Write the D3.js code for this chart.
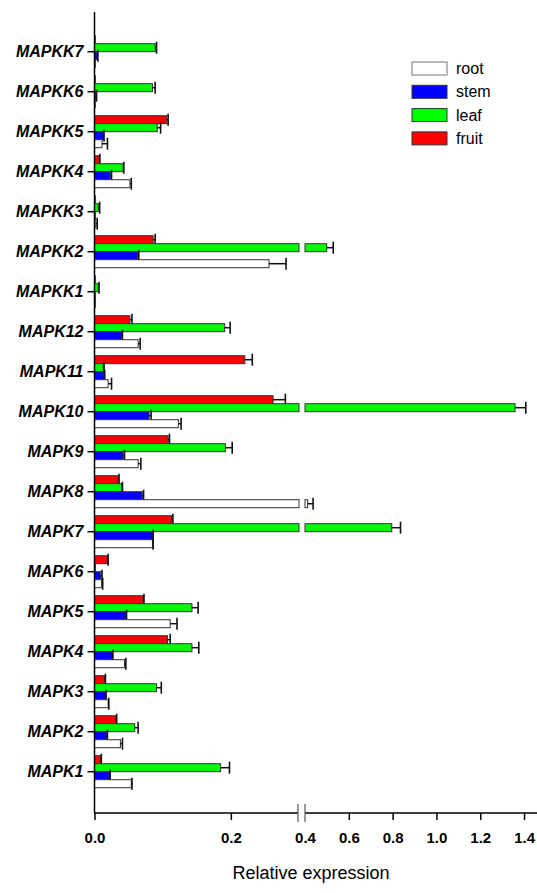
<!DOCTYPE html>
<html>
<head>
<meta charset="utf-8">
<script src="https://cdn.jsdelivr.net/npm/d3@7"></script>
<style>
  body { margin: 0; background: #fff; }
  svg { display: block; font-family: "Liberation Sans", Arial, sans-serif; }
</style>
</head>
<body>
<svg id="chart" width="537" height="893"></svg>
<script>
// genes, top to bottom
const genes = ["MAPKK7", "MAPKK6", "MAPKK5", "MAPKK4", "MAPKK3", "MAPKK2", "MAPKK1",
  "MAPK12", "MAPK11", "MAPK10", "MAPK9", "MAPK8", "MAPK7", "MAPK6", "MAPK5",
  "MAPK4", "MAPK3", "MAPK2", "MAPK1"];

const root     = [0.001, 0.001, 0.011, 0.052, 0.002, 0.256, 0, 0.064, 0.02, 0.123, 0.064, 0.412, 0.085, 0.0105, 0.111, 0.044, 0.02, 0.038, 0.054];
const rootErr  = [0, 0, 0.008, 0.002, 0.002, 0.025, 0, 0.003, 0.005, 0.004, 0.004, 0.025, 0.001, 0.0015, 0.01, 0.002, 0.001, 0.003, 0.001];
const stem     = [0.004, 0.002, 0.013, 0.023, 0.001, 0.063, 0, 0.04, 0.014, 0.08, 0.042, 0.07, 0.085, 0.009, 0.046, 0.026, 0.016, 0.018, 0.022];
const stemErr  = [0.001, 0.001, 0.001, 0.002, 0, 0.002, 0, 0.001, 0.001, 0.003, 0.002, 0.002, 0.001, 0.002, 0.001, 0.001, 0.001, 0.001, 0.001];
const leaf     = [0.089, 0.085, 0.092, 0.042, 0.0056, 0.499, 0.0056, 0.191, 0.013, 1.359, 0.192, 0.04, 0.796, 0, 0.143, 0.143, 0.091, 0.059, 0.185];
const leafErr  = [0.002, 0.004, 0.005, 0.001, 0.002, 0.03, 0.001, 0.008, 0.001, 0.049, 0.01, 0.001, 0.04, 0, 0.009, 0.01, 0.007, 0.005, 0.013];
const fruit    = [0.001, 0.001, 0.106, 0.007, 0, 0.086, 0, 0.052, 0.2205, 0.262, 0.108, 0.035, 0.113, 0.019, 0.0716, 0.107, 0.015, 0.0315, 0.009];
const fruitErr = [0, 0, 0.002, 0.001, 0, 0.003, 0, 0.003, 0.011, 0.018, 0.002, 0.001, 0.002, 0.001, 0.001, 0.004, 0.001, 0.001, 0.001];

const tickValues = [0, 0.2, 0.4, 0.6, 0.8, 1.0, 1.2, 1.4];
const breakLo = 0.3, breakHi = 0.4;

// drawn top to bottom inside each group
const series = [
  { name: "fruit", values: fruit, errs: fruitErr, color: "#ff0000" },
  { name: "leaf",  values: leaf,  errs: leafErr,  color: "#00ff00" },
  { name: "stem",  values: stem,  errs: stemErr,  color: "#0000ff" },
  { name: "root",  values: root,  errs: rootErr,  color: "#ffffff" }
];
const legendOrder = ["root", "stem", "leaf", "fruit"];

const svg = d3.select("#chart");
const x0 = 94.5, axisY = 813, axisTop = 12;

// broken axis: 0..0.3 then 0.4..1.45
const x = d3.scaleLinear()
  .domain([0, breakLo, breakHi, 1.45])
  .range([x0, 299, 305, 535]);

const y = d3.scaleBand()
  .domain(genes)
  .range([31.7, 791.7])
  .padding(0);

const barH = 8;

// bars
series.forEach((s, si) => {
  const g = svg.append("g").attr("class", "series-" + s.name);
  genes.forEach((gene, i) => {
    const v = s.values[i];
    const top = y(gene) + y.bandwidth() / 2 - 16 + si * barH;
    const segs = v > breakLo ? [[0, breakLo], [breakHi, v]] : [[0, v]];
    segs.forEach(([a, b]) => {
      g.append("rect")
        .attr("x", x(a))
        .attr("y", top)
        .attr("width", Math.max(0.8, x(b) - x(a)))
        .attr("height", barH)
        .attr("fill", s.color)
        .attr("stroke", "#333")
        .attr("stroke-width", 1);
    });
    const e = s.errs[i];
    if (e > 0) {
      const cy = top + barH / 2;
      g.append("line")
        .attr("x1", x(v)).attr("x2", x(v + e))
        .attr("y1", cy).attr("y2", cy)
        .attr("stroke", "#111").attr("stroke-width", 1.5);
      g.append("line")
        .attr("x1", x(v + e)).attr("x2", x(v + e))
        .attr("y1", cy - 6).attr("y2", cy + 6)
        .attr("stroke", "#111").attr("stroke-width", 1.6);
    }
  });
});

// y axis
svg.append("line")
  .attr("x1", x0).attr("x2", x0)
  .attr("y1", axisTop).attr("y2", axisY)
  .attr("stroke", "#000").attr("stroke-width", 1.5);

const yAxis = svg.append("g")
  .attr("transform", `translate(${x0},0)`)
  .call(d3.axisLeft(y).tickSize(7).tickPadding(4));
yAxis.select(".domain").remove();
yAxis.selectAll(".tick line").attr("stroke-width", 1.5);
yAxis.selectAll("text")
  .attr("font-family", "'Liberation Sans', Arial, sans-serif")
  .attr("font-size", 16)
  .attr("font-weight", "bold")
  .attr("font-style", "italic")
  .attr("fill", "#000");

// x axis
const xAxis = svg.append("g")
  .attr("transform", `translate(0,${axisY})`)
  .call(d3.axisBottom(x).tickValues(tickValues).tickFormat(d3.format(".1f")).tickSize(7).tickPadding(12));
xAxis.select(".domain").remove();
xAxis.selectAll(".tick line").attr("stroke-width", 1.5);
xAxis.selectAll(".tick").filter(d => d === breakHi).select("line").remove();
xAxis.selectAll("text")
  .attr("font-family", "'Liberation Sans', Arial, sans-serif")
  .attr("font-size", 15)
  .attr("font-weight", "bold")
  .attr("fill", "#000");

// axis line with gap and break marks
[[x0, 298], [305, 537]].forEach(([a, b]) => {
  svg.append("line")
    .attr("x1", a).attr("x2", b)
    .attr("y1", axisY).attr("y2", axisY)
    .attr("stroke", "#000").attr("stroke-width", 1.5);
});
[298, 305].forEach(bx => {
  svg.append("line")
    .attr("x1", bx).attr("x2", bx)
    .attr("y1", axisY - 9).attr("y2", axisY + 9)
    .attr("stroke", "#555").attr("stroke-width", 1.2);
});

// axis title
svg.append("text")
  .attr("x", 311)
  .attr("y", 879)
  .attr("text-anchor", "middle")
  .attr("font-size", 18)
  .attr("fill", "#000")
  .text("Relative expression");

// legend
const legend = svg.append("g").attr("transform", "translate(412,62)");
legendOrder.forEach((name, i) => {
  const s = series.find(d => d.name === name);
  legend.append("rect")
    .attr("x", 0).attr("y", i * 23.3)
    .attr("width", 35).attr("height", 13)
    .attr("fill", s.color)
    .attr("stroke", name === "root" ? "#777" : "#333")
    .attr("stroke-width", 1);
  legend.append("text")
    .attr("x", 44).attr("y", i * 23.3 + 12)
    .attr("font-size", 16)
    .attr("fill", "#000")
    .text(name);
});
</script>
</body>
</html>
